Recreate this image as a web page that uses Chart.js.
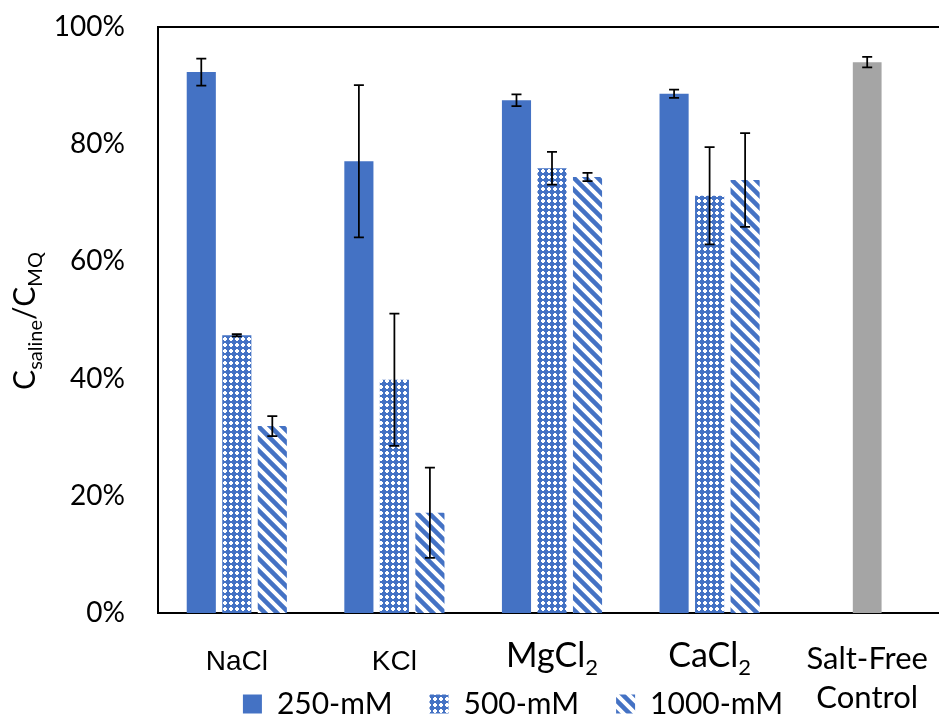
<!DOCTYPE html>
<html>
<head>
<meta charset="utf-8">
<script src="https://cdn.jsdelivr.net/npm/chart.js@4"></script>
<style>
  body { margin: 0; background: #fff; overflow: hidden; }
</style>
</head>
<body>
<canvas id="myChart" width="1008" height="729"></canvas>
<script>
const categorias = ["NaCl", "KCl", "MgCl₂", "CaCl₂", ["Salt-Free", "Control"]];
const yTicks = [0, 20, 40, 60, 80, 100];

const valores250 = [92.3, 77.1, 87.5, 88.6, null];
const valores500 = [47.4, 39.8, 75.9, 71.2, null];
const valores1000 = [31.9, 17.1, 74.4, 73.9, null];
const valoresControl = [null, null, null, null, 94.0];

const error250 = [2.3, 13.0, 1.0, 0.7, null];
const error500 = [0.2, 11.3, 2.8, 8.3, null];
const error1000 = [1.7, 7.7, 0.7, 8.0, null];
const errorControl = [null, null, null, null, 0.9];

const azul = "#4472C4";
const gris = "#A5A5A5";

// patron de cuadritos para 500-mM
function patronCuadros() {
    const c = document.createElement("canvas");
    c.width = 6; c.height = 6;
    const g = c.getContext("2d");
    g.fillStyle = azul;
    g.fillRect(0, 0, 6, 6);
    g.fillStyle = "#fff";
    g.fillRect(1, 2, 4, 2);
    g.fillRect(2, 1, 2, 4);
    return g.createPattern(c, "repeat");
}

// rayas diagonales anchas para 1000-mM
function patronRayas() {
    const c = document.createElement("canvas");
    c.width = 12; c.height = 12;
    const g = c.getContext("2d");
    g.fillStyle = "#fff";
    g.fillRect(0, 0, 12, 12);
    g.strokeStyle = azul;
    g.lineWidth = 4.5;
    g.beginPath();
    g.moveTo(-2, -2); g.lineTo(14, 14);
    g.moveTo(-2, 10); g.lineTo(2, 14);
    g.moveTo(10, -2); g.lineTo(14, 2);
    g.stroke();
    return g.createPattern(c, "repeat");
}

const errores = [error250, error500, error1000, errorControl];

const barrasError = {
    id: "barrasError",
    afterDatasetsDraw(chart) {
        const ctx = chart.ctx;
        const y = chart.scales.y;
        ctx.save();
        ctx.strokeStyle = "#000";
        ctx.lineWidth = 1.75;
        chart.data.datasets.forEach((ds, i) => {
            const meta = chart.getDatasetMeta(i);
            meta.data.forEach((bar, j) => {
                const v = ds.data[j];
                const e = errores[i][j];
                if (v == null || e == null) return;
                const y1 = y.getPixelForValue(v + e);
                const y2 = y.getPixelForValue(v - e);
                ctx.beginPath();
                ctx.moveTo(bar.x, y1); ctx.lineTo(bar.x, y2);
                ctx.moveTo(bar.x - 5, y1); ctx.lineTo(bar.x + 5, y1);
                ctx.moveTo(bar.x - 5, y2); ctx.lineTo(bar.x + 5, y2);
                ctx.stroke();
            });
        });
        ctx.restore();
    }
};

const marco = {
    id: "marco",
    beforeDatasetsDraw(chart) {
        const a = chart.chartArea;
        const ctx = chart.ctx;
        ctx.save();
        ctx.strokeStyle = "#000";
        ctx.lineWidth = 2;
        ctx.strokeRect(a.left, a.top, a.right - a.left, a.bottom - a.top);
        ctx.restore();
    }
};

// la leyenda va un poco corrida a la derecha
const moverLeyenda = {
    id: "moverLeyenda",
    afterLayout(chart) {
        chart.legend.left += 40;
        chart.legend.right += 40;
    }
};

// etiquetas del eje x con subindice y titulo del eje y
const textos = {
    id: "textos",
    afterDraw(chart) {
        const ctx = chart.ctx;
        const x = chart.scales.x;
        ctx.save();
        ctx.fillStyle = "#000";
        ctx.textBaseline = "alphabetic";
        categorias.forEach((cat, i) => {
            const px = x.getPixelForValue(i);
            if (Array.isArray(cat)) {
                ctx.font = "31px Lato";
                ctx.textAlign = "center";
                ctx.fillText(cat[0], px, 669);
                ctx.fillText(cat[1], px, 708);
            } else if (cat.endsWith("₂")) {
                const base = cat.slice(0, -1);
                ctx.font = "34px Lato";
                const w1 = ctx.measureText(base).width;
                ctx.font = "22px Lato";
                const w2 = ctx.measureText("2").width;
                const x0 = px - (w1 + w2) / 2;
                ctx.textAlign = "left";
                ctx.font = "34px Lato";
                ctx.fillText(base, x0, 667);
                ctx.font = "22px Lato";
                ctx.fillText("2", x0 + w1, 675);
            } else {
                ctx.font = "28px 'Liberation Sans'";
                ctx.textAlign = "center";
                ctx.fillText(cat, px, 670);
            }
        });

        // titulo eje y: C_saline / C_MQ
        const partes = [["C", 30, 0], ["saline", 20, 7], ["/C", 30, 0], ["MQ", 20, 7]];
        let total = 0;
        partes.forEach(p => { ctx.font = p[1] + "px Lato"; total += ctx.measureText(p[0]).width; });
        ctx.translate(35, 321);
        ctx.rotate(-Math.PI / 2);
        ctx.textAlign = "left";
        let cx = -total / 2;
        partes.forEach(p => {
            ctx.font = p[1] + "px Lato";
            ctx.fillText(p[0], cx, p[2]);
            cx += ctx.measureText(p[0]).width;
        });
        ctx.restore();
    }
};

const cuadros = patronCuadros();
const rayas = patronRayas();

new Chart("myChart", {
    type: "bar",
    data: {
        labels: categorias,
        datasets: [
            { label: "250-mM", data: valores250, backgroundColor: azul },
            { label: "500-mM", data: valores500, backgroundColor: cuadros },
            { label: "1000-mM", data: valores1000, backgroundColor: rayas },
            { label: "Salt-Free Control", data: valoresControl, backgroundColor: gris, barPercentage: 0.27 }
        ]
    },
    options: {
        responsive: false,
        animation: false,
        skipNull: true,
        categoryPercentage: 0.676,
        barPercentage: 0.82,
        layout: { padding: { top: 27, right: 62, left: 0, bottom: 0 } },
        scales: {
            x: {
                grid: { display: false, drawTicks: false },
                border: { display: false },
                ticks: { display: false },
                afterFit: s => { s.height = 39; s.paddingLeft = 0; s.paddingRight = 0; }
            },
            y: {
                min: 0,
                max: 100,
                afterBuildTicks: s => { s.ticks = yTicks.map(v => ({ value: v })); },
                grid: { display: false, drawTicks: false },
                border: { display: false },
                ticks: {
                    padding: 33,
                    color: "#000",
                    font: { family: "Lato", size: 28 },
                    callback: v => v + "%"
                },
                afterFit: s => { s.width = 158; s.paddingTop = 0; s.paddingBottom = 0; }
            }
        },
        plugins: {
            legend: {
                position: "bottom",
                labels: {
                    color: "#000",
                    font: { family: "Lato", size: 30 },
                    boxWidth: 19,
                    boxHeight: 19,
                    padding: 37,
                    filter: item => item.datasetIndex < 3
                }
            },
            tooltip: { enabled: false }
        }
    },
    plugins: [marco, barrasError, moverLeyenda, textos]
});
</script>
</body>
</html>
